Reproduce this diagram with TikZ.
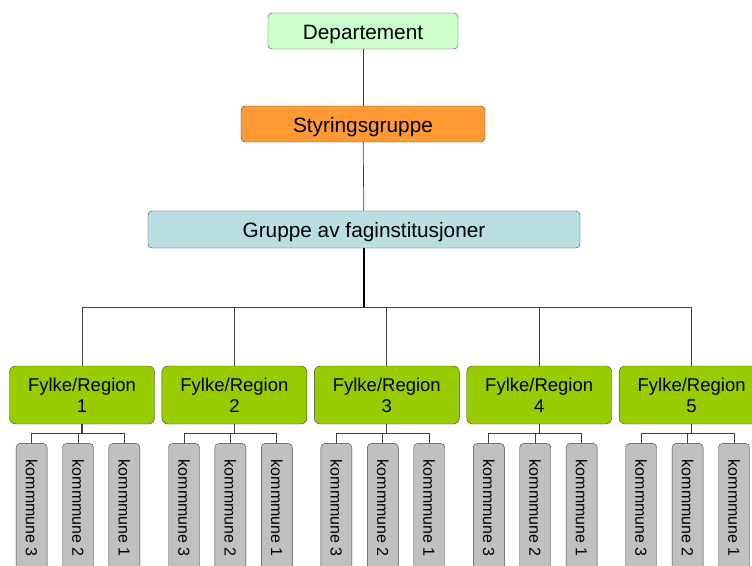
\documentclass[tikz,border=0pt]{standalone}
\usepackage{fontspec}
\setmainfont{Liberation Sans}
\usepackage{graphicx}
\usetikzlibrary{positioning}
\definecolor{deptgreen}{HTML}{CCFFCC}
\definecolor{styrorange}{HTML}{FF9933}
\definecolor{gruppeblue}{HTML}{B9DFE3}
\definecolor{fylkegreen}{HTML}{99CC00}
\definecolor{komgray}{HTML}{C0C0C0}

\begin{document}
\begin{tikzpicture}[
  x=1pt, y=-1pt,
  node distance=7pt and 7pt,
  topnode/.style={draw=black!75,rounded corners=4pt,minimum height=36pt,inner sep=0pt,text height=16pt,text depth=0pt,font=\fontsize{20.8}{24}\selectfont},
  fylkenode/.style={draw=black!75,fill=fylkegreen,rounded corners=6pt,minimum width=145pt,minimum height=58pt,align=center,inner sep=0pt,font=\fontsize{18.5}{21}\selectfont},
  komnode/.style={draw=black!75,fill=komgray,rounded corners=4pt,minimum width=31pt,minimum height=130pt,inner sep=0pt,font=\fontsize{16}{18}\selectfont},
  link/.style={draw=black!75,line width=0.7pt}
]
\useasboundingbox (0,0) rectangle (752,565);
\clip (0,0) rectangle (752,565);
\node[topnode,fill=deptgreen,minimum width=190pt] (D) at (363,31) {Departement};
\node[topnode,fill=styrorange,minimum width=244pt] (S) at (363,124) {Styringsgruppe};
\node[topnode,fill=gruppeblue,minimum width=432pt,minimum height=37pt] (G) at (364,229.5) {Gruppe av faginstitusjoner};
\coordinate (bus) at (364,307);
\node[fylkenode] (F1) at (82,395) {Fylke/Region\\1};
\foreach \i [count=\j] in {2,...,5}
  \node[fylkenode,right=7pt of F\j] (F\i) {Fylke/Region\\\i};
\foreach \i in {1,...,5} {
  \coordinate[below=9pt of F\i.south] (fb\i);
  \node[komnode,below=19pt of F\i.south,xshift=-4pt] (K\i2) {\rotatebox{-90}{kommmune 2}};
  \node[komnode,left=15pt of K\i2] (K\i3) {\rotatebox{-90}{kommmune 3}};
  \node[komnode,right=15pt of K\i2] (K\i1) {\rotatebox{-90}{kommmune 1}};
}
\draw[link] (D) -- (S);
\draw[link] (S) -- (G);
\draw[line width=1.6pt] (G.south) -- (bus);
\foreach \i in {1,...,5} {
  \draw[link] (F\i.north) |- (bus);
  \draw[link,line width=1.2pt] (F\i.south) -- (fb\i);
  \foreach \k in {1,2,3}
    \draw[link] (K\i\k.north) |- (fb\i);
}
\end{tikzpicture}
\end{document}
